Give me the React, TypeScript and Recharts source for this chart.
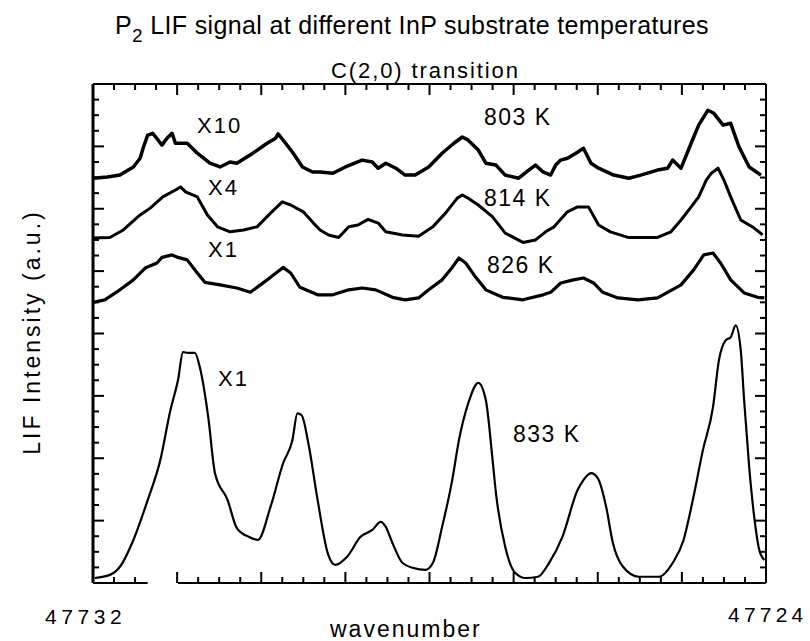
import React from 'react';
import { LineChart, Line, XAxis, YAxis, ReferenceLine } from 'recharts';

// [wavenumber, intensity (a.u.)]
const s803: [number, number][] = [
  [47732.0, 6.49], [47731.83, 6.51], [47731.68, 6.54], [47731.52, 6.67], [47731.44, 6.81], [47731.4, 6.99],
  [47731.35, 7.18], [47731.29, 7.21], [47731.18, 7.02], [47731.12, 7.13], [47731.06, 7.21], [47731.02, 7.05],
  [47730.88, 7.05], [47730.76, 6.89], [47730.61, 6.73], [47730.49, 6.67], [47730.37, 6.75], [47730.29, 6.73],
  [47730.1, 6.89], [47729.93, 7.05], [47729.83, 7.13], [47729.8, 7.2], [47729.71, 7.05], [47729.62, 6.89],
  [47729.51, 6.67], [47729.39, 6.59], [47729.3, 6.59], [47729.15, 6.57], [47729.0, 6.67], [47728.8, 6.78],
  [47728.68, 6.75], [47728.61, 6.65], [47728.52, 6.73], [47728.4, 6.65], [47728.29, 6.54], [47728.17, 6.54],
  [47728.01, 6.67], [47727.85, 6.89], [47727.71, 7.05], [47727.61, 7.15], [47727.54, 7.1], [47727.42, 6.94],
  [47727.33, 6.73], [47727.21, 6.7], [47727.1, 6.54], [47726.94, 6.49], [47726.82, 6.62], [47726.74, 6.7],
  [47726.65, 6.59], [47726.56, 6.54], [47726.5, 6.7], [47726.44, 6.78], [47726.36, 6.81], [47726.26, 6.89],
  [47726.17, 6.97], [47726.08, 6.73], [47725.99, 6.65], [47725.81, 6.54], [47725.63, 6.49], [47725.49, 6.54],
  [47725.29, 6.62], [47725.17, 6.65], [47725.11, 6.78], [47725.01, 6.65], [47724.89, 7.05], [47724.8, 7.34],
  [47724.69, 7.58], [47724.62, 7.53], [47724.51, 7.34], [47724.42, 7.37], [47724.32, 6.99], [47724.2, 6.67],
  [47724.06, 6.54],
];

const s814: [number, number][] = [
  [47732.0, 5.53], [47731.8, 5.54], [47731.64, 5.66], [47731.44, 5.9], [47731.32, 6.01], [47731.17, 6.19],
  [47731.02, 6.3], [47730.96, 6.35], [47730.9, 6.27], [47730.76, 6.19], [47730.64, 5.9], [47730.52, 5.71],
  [47730.37, 5.63], [47730.21, 5.66], [47730.05, 5.71], [47729.89, 5.93], [47729.75, 6.11], [47729.65, 6.06],
  [47729.5, 5.95], [47729.38, 5.77], [47729.3, 5.66], [47729.2, 5.58], [47729.08, 5.54], [47728.96, 5.71],
  [47728.85, 5.74], [47728.73, 5.83], [47728.61, 5.77], [47728.52, 5.63], [47728.32, 5.58], [47728.13, 5.56],
  [47727.96, 5.71], [47727.81, 5.93], [47727.67, 6.17], [47727.61, 6.22], [47727.54, 6.17], [47727.42, 6.06],
  [47727.25, 5.87], [47727.1, 5.61], [47726.89, 5.46], [47726.74, 5.5], [47726.62, 5.63], [47726.52, 5.71],
  [47726.36, 5.95], [47726.24, 6.03], [47726.11, 6.03], [47725.99, 5.74], [47725.85, 5.63], [47725.64, 5.54],
  [47725.49, 5.54], [47725.29, 5.54], [47725.13, 5.63], [47725.01, 5.82], [47724.89, 6.03], [47724.8, 6.19],
  [47724.71, 6.46], [47724.65, 6.57], [47724.57, 6.65], [47724.5, 6.46], [47724.42, 6.19], [47724.3, 5.82],
  [47724.14, 5.69], [47724.04, 5.58],
];

const s826: [number, number][] = [
  [47732.0, 4.5], [47731.86, 4.54], [47731.68, 4.7], [47731.52, 4.86], [47731.38, 5.05], [47731.24, 5.13],
  [47731.18, 5.22], [47731.06, 5.26], [47730.99, 5.22], [47730.88, 5.18], [47730.76, 4.97], [47730.67, 4.82],
  [47730.49, 4.78], [47730.29, 4.73], [47730.13, 4.66], [47730.05, 4.74], [47729.89, 4.9], [47729.74, 5.06],
  [47729.65, 4.97], [47729.54, 4.74], [47729.33, 4.62], [47729.15, 4.62], [47728.96, 4.7], [47728.8, 4.73],
  [47728.64, 4.7], [47728.44, 4.58], [47728.29, 4.54], [47728.13, 4.57], [47728.01, 4.7], [47727.85, 4.86],
  [47727.73, 5.06], [47727.65, 5.21], [47727.57, 5.13], [47727.45, 4.9], [47727.33, 4.7], [47727.13, 4.58],
  [47726.89, 4.54], [47726.65, 4.62], [47726.56, 4.66], [47726.44, 4.81], [47726.29, 4.86], [47726.17, 4.89],
  [47726.05, 4.81], [47725.94, 4.66], [47725.76, 4.57], [47725.52, 4.54], [47725.29, 4.57], [47725.17, 4.66],
  [47725.01, 4.78], [47724.86, 5.02], [47724.74, 5.26], [47724.63, 5.29], [47724.54, 5.13], [47724.42, 4.86],
  [47724.26, 4.65], [47724.1, 4.58], [47724.02, 4.57],
];

const s833: [number, number][] = [
  [47731.98, 0.08], [47731.8, 0.13], [47731.68, 0.26], [47731.52, 0.69], [47731.35, 1.33], [47731.2, 1.97],
  [47731.08, 2.77], [47730.99, 3.25], [47730.93, 3.7], [47730.87, 3.69], [47730.79, 3.69], [47730.73, 3.46],
  [47730.63, 2.66], [47730.55, 1.76], [47730.4, 1.33], [47730.29, 0.88], [47730.15, 0.74], [47730.04, 0.69],
  [47729.89, 1.22], [47729.74, 1.92], [47729.63, 2.29], [47729.57, 2.72], [47729.52, 2.69], [47729.44, 2.24],
  [47729.33, 1.33], [47729.21, 0.48], [47729.12, 0.29], [47728.98, 0.42], [47728.82, 0.74], [47728.68, 0.85],
  [47728.58, 0.98], [47728.52, 0.9], [47728.44, 0.64], [47728.32, 0.32], [47728.19, 0.24], [47728.05, 0.21],
  [47727.96, 0.32], [47727.85, 0.9], [47727.73, 1.65], [47727.65, 2.29], [47727.54, 2.88], [47727.42, 3.21],
  [47727.33, 2.93], [47727.25, 1.97], [47727.21, 1.44], [47727.1, 0.58], [47726.98, 0.16], [47726.86, 0.08],
  [47726.71, 0.1], [47726.58, 0.32], [47726.42, 0.74], [47726.24, 1.49], [47726.17, 1.65], [47726.08, 1.76],
  [47726.0, 1.68], [47725.9, 1.22], [47725.82, 0.64], [47725.7, 0.26], [47725.51, 0.1], [47725.27, 0.1],
  [47725.11, 0.32], [47724.98, 0.69], [47724.87, 1.33], [47724.75, 2.13], [47724.63, 2.82], [47724.56, 3.57],
  [47724.48, 3.89], [47724.42, 3.94], [47724.36, 4.13], [47724.3, 3.73], [47724.26, 2.93], [47724.2, 1.86],
  [47724.14, 1.06], [47724.08, 0.53], [47724.02, 0.37],
];

const xDomain: [number, number] = [47724, 47732];
const yDomain: [number, number] = [0, 8];
const ticksX = [
  47724, 47724.25, 47724.5, 47724.75, 47725, 47725.25, 47725.5, 47725.75, 47726, 47726.25, 47726.5, 47726.75,
  47727, 47727.25, 47727.5, 47727.75, 47728, 47728.25, 47728.5, 47728.75, 47729, 47729.25, 47729.5, 47729.75,
  47730, 47730.25, 47730.5, 47730.75, 47731, 47731.25, 47731.5, 47731.75, 47732,
];
const ticksXBottom = ticksX.filter((t) => t !== 47731.25);
const ticksY = [
  0, 0.25, 0.5, 0.75, 1, 1.25, 1.5, 1.75, 2, 2.25, 2.5, 2.75, 3, 3.25, 3.5, 3.75,
  4, 4.25, 4.5, 4.75, 5, 5.25, 5.5, 5.75, 6, 6.25, 6.5, 6.75, 7, 7.25, 7.5, 7.75, 8,
];
const bottomAxisPieces: [number, number][] = [[47732, 47731.35], [47730.99, 47724]];

const toData = (s: [number, number][]) => s.map(([wn, v]) => ({ wn, v }));

const FONT = "'Liberation Sans', Arial, Helvetica, sans-serif";
const INK = '#000';

type Side = 'top' | 'bottom' | 'left' | 'right';
const makeTick = (side: Side) => (props: any) => {
  const { x, y, payload } = props;
  const major = Number.isInteger(payload?.value);
  const len = major ? 11 : 6;
  let x2 = x;
  let y2 = y;
  if (side === 'bottom') y2 = y - len;
  if (side === 'top') y2 = y + len;
  if (side === 'left') x2 = x + len;
  if (side === 'right') x2 = x - len;
  return <line x1={x} y1={y} x2={x2} y2={y2} stroke={INK} strokeWidth={2} />;
};

export default function App() {
  const W = 810;
  const H = 641;
  const commonX = {
    type: 'number' as const,
    dataKey: 'wn',
    domain: xDomain,
    allowDataOverflow: true,
    interval: 0 as const,
    mirror: true,
    reversed: true,
    height: 1,
    tickSize: 0,
    tickMargin: 0,
    tickLine: false,
  };
  const commonY = {
    type: 'number' as const,
    domain: yDomain,
    allowDataOverflow: true,
    interval: 0 as const,
    mirror: true,
    width: 1,
    tickSize: 0,
    tickMargin: 0,
    tickLine: false,
  };
  return (
    <div style={{ position: 'absolute', left: 0, top: 0, width: W, height: H, background: '#fff' }}>
      <LineChart width={W} height={H} margin={{ top: 84, left: 93, right: 44, bottom: 58 }}>
        <XAxis xAxisId="b" orientation="bottom" ticks={ticksXBottom} tick={makeTick('bottom')} axisLine={false} {...commonX} />
        <XAxis xAxisId="t" orientation="top" ticks={ticksX} tick={makeTick('top')} axisLine={{ stroke: INK, strokeWidth: 2 }} {...commonX} />
        <YAxis yAxisId="l" orientation="left" ticks={ticksY} tick={makeTick('left')} axisLine={{ stroke: INK, strokeWidth: 3 }} {...commonY} />
        <YAxis yAxisId="r" orientation="right" ticks={ticksY} tick={makeTick('right')} axisLine={{ stroke: INK, strokeWidth: 2 }} {...commonY} />
        {bottomAxisPieces.map(([a, b], i) => (
          <ReferenceLine key={i} xAxisId="b" yAxisId="l" segment={[{ x: a, y: 0 }, { x: b, y: 0 }]} stroke={INK} strokeWidth={2} ifOverflow="visible" />
        ))}
        <Line xAxisId="b" yAxisId="l" data={toData(s803)} dataKey="v" type="linear" stroke={INK} strokeWidth={3.5} dot={false} isAnimationActive={false} strokeLinejoin="round" />
        <Line xAxisId="b" yAxisId="l" data={toData(s814)} dataKey="v" type="linear" stroke={INK} strokeWidth={3} dot={false} isAnimationActive={false} strokeLinejoin="round" />
        <Line xAxisId="b" yAxisId="l" data={toData(s826)} dataKey="v" type="linear" stroke={INK} strokeWidth={3.2} dot={false} isAnimationActive={false} strokeLinejoin="round" />
        <Line xAxisId="b" yAxisId="l" data={toData(s833)} dataKey="v" type="monotone" stroke={INK} strokeWidth={2.2} dot={false} isAnimationActive={false} strokeLinejoin="round" />
      </LineChart>
      <svg width={W} height={H} style={{ position: 'absolute', left: 0, top: 0, pointerEvents: 'none' }} fontFamily={FONT} fill={INK}>
        <text x={115} y={34} fontSize={25} letterSpacing={0.35}>
          P<tspan dy={8} fontSize={19}>2</tspan><tspan dy={-8}> LIF signal at different InP substrate temperatures</tspan>
        </text>
        <text x={331} y={78} fontSize={22} letterSpacing={1.9}>C(2,0) transition</text>
        <text x={197} y={133} fontSize={22} letterSpacing={2}>X10</text>
        <text x={208} y={195} fontSize={22} letterSpacing={2}>X4</text>
        <text x={208} y={257} fontSize={22} letterSpacing={2}>X1</text>
        <text x={218} y={386} fontSize={22} letterSpacing={2}>X1</text>
        <text x={484} y={125} fontSize={23} letterSpacing={1.5}>803 K</text>
        <text x={484} y={206} fontSize={23} letterSpacing={1.5}>814 K</text>
        <text x={487} y={273} fontSize={23} letterSpacing={1.5}>826 K</text>
        <text x={513} y={442} fontSize={23} letterSpacing={1.5}>833 K</text>
        <text x={45} y={624} fontSize={21} letterSpacing={4.6}>47732</text>
        <text x={728} y={622} fontSize={21} letterSpacing={4.2}>47724</text>
        <text x={330} y={637} fontSize={23} letterSpacing={2}>wavenumber</text>
        <text x={0} y={0} fontSize={23} letterSpacing={3} textAnchor="middle" transform="translate(40,332) rotate(-90)">LIF Intensity (a.u.)</text>
      </svg>
    </div>
  );
}
